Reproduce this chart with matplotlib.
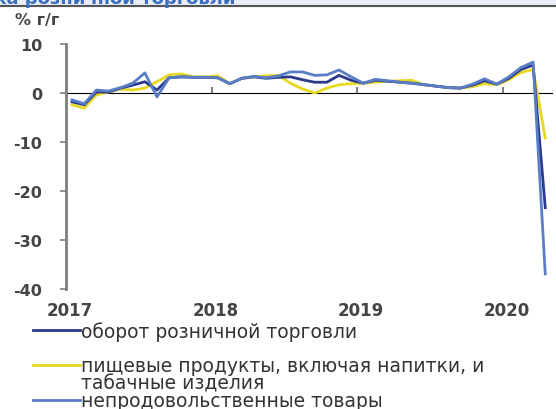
import numpy as np
import matplotlib.pyplot as plt
from matplotlib.lines import Line2D
from matplotlib.patches import Rectangle
from matplotlib.transforms import offset_copy

plt.rcParams['font.family'] = ['DejaVu Sans']

# месячные данные, % г/г, янв 2017 - апр 2020
months = np.arange(40)
x = 2017 + (months + 0.5) / 12

retail = [-1.8, -2.4, 0.2, 0.2, 1.0, 1.6, 2.3, 0.6, 3.1, 3.3, 3.2, 3.2,
          3.1, 1.9, 3.0, 3.3, 3.0, 3.2, 3.3, 2.7, 2.2, 2.2, 3.6, 2.6,
          2.0, 2.6, 2.4, 2.2, 2.0, 1.7, 1.4, 1.1, 1.0, 1.6, 2.5, 1.8,
          3.0, 4.8, 5.7, -23.4]
food = [-2.4, -3.1, -0.4, 0.2, 0.8, 0.6, 1.0, 2.3, 3.7, 3.9, 3.3, 3.3,
        3.5, 1.9, 3.0, 3.3, 3.5, 3.6, 2.0, 0.8, 0.0, 1.0, 1.7, 1.9,
        2.0, 2.2, 2.4, 2.5, 2.6, 1.7, 1.4, 1.1, 1.0, 1.3, 1.9, 1.7,
        2.7, 4.2, 4.8, -9.2]
nonfood = [-1.4, -2.2, 0.6, 0.4, 1.1, 2.0, 4.1, -0.8, 3.1, 3.3, 3.2, 3.2,
           3.1, 1.9, 3.0, 3.4, 3.1, 3.5, 4.3, 4.3, 3.6, 3.7, 4.7, 3.3,
           2.0, 2.8, 2.5, 2.2, 2.0, 1.7, 1.4, 1.1, 1.0, 1.8, 2.9, 1.8,
           3.3, 5.2, 6.3, -36.9]

years = [2017, 2018, 2019, 2020]
yticks = [10, 0, -10, -20, -30, -40]

c_retail = '#2b3a8c'
c_food = '#e8d820'
c_nonfood = '#5a7ec6'
grey = '#7f7f7f'
W, H = 556, 410

fig = plt.figure(figsize=(W / 100, H / 100), dpi=100)

# шапка с заголовком, обрезанным сверху
fig.add_artist(Rectangle((0, 1 - 7 / H), 1, 7 / H, transform=fig.transFigure,
                         color='#e9eef6', zorder=0))
fig.text(235 / W, 1 - 4 / H, 'Динамика розничной торговли',
         color='#3a6fc0', fontsize=13, fontweight='bold', va='baseline', ha='right')
fig.add_artist(Line2D([0, 1], [1 - 7 / H, 1 - 7 / H], transform=fig.transFigure,
                      color='#555555', lw=1.5))

ax = fig.add_axes([66 / W, 1 - 290 / H, (552 - 66) / W, (290 - 45) / H])
ax.plot(x, food, color=c_food, lw=2.0, zorder=3)
ax.plot(x, retail, color=c_retail, lw=2.0, zorder=4)
ax.plot(x, nonfood, color=c_nonfood, lw=2.0, zorder=5)

ax.set_xlim(2017, 2020 + (552 - 503) / 145)
ax.set_ylim(-40, 10)

for s in ['top', 'right', 'bottom']:
    ax.spines[s].set_visible(False)
ax.spines['left'].set_color(grey)
ax.spines['left'].set_linewidth(2)

ax.set_yticks(yticks)
ax.set_yticklabels([str(v) for v in yticks])
ax.tick_params(axis='y', direction='out', length=4, width=1.2, color=grey,
               labelsize=11.5, labelcolor='#444444', pad=13)
for lab in ax.get_yticklabels():
    lab.set_fontweight('bold')

ax.set_xticks(years)
ax.set_xticklabels([str(v) for v in years])
ax.tick_params(axis='x', length=0, labelsize=12, labelcolor='#444444', pad=9)
for lab in ax.get_xticklabels():
    lab.set_fontweight('bold')
    lab.set_transform(offset_copy(lab.get_transform(), fig=fig, x=4, units='dots'))

# нулевая линия с отметками лет
sec = ax.secondary_xaxis(40 / 50)
sec.spines['bottom'].set_color(grey)
sec.spines['bottom'].set_linewidth(1.5)
sec.set_xticks(years[1:])
sec.set_xticklabels([])
sec.tick_params(axis='x', direction='out', length=4, width=1.5, color=grey)

fig.text(15 / W, 1 - 21 / H, '% г/г', fontsize=11.5, fontweight='bold',
         color='#444444', va='center')

# легенда
entries = [(c_retail, 331, 'оборот розничной торговли'),
           (c_food, 366, 'пищевые продукты, включая напитки, и\nтабачные изделия'),
           (c_nonfood, 401, 'непродовольственные товары')]
for col, ypx, txt in entries:
    yf = 1 - ypx / H
    fig.add_artist(Line2D([33 / W, 80 / W], [yf, yf], transform=fig.transFigure,
                          color=col, lw=2))
    fig.text(81 / W, yf + 9 / H, txt, fontsize=13.5, color='#333333',
             va='top', linespacing=0.88)

fig.savefig('out.png', dpi=100)
